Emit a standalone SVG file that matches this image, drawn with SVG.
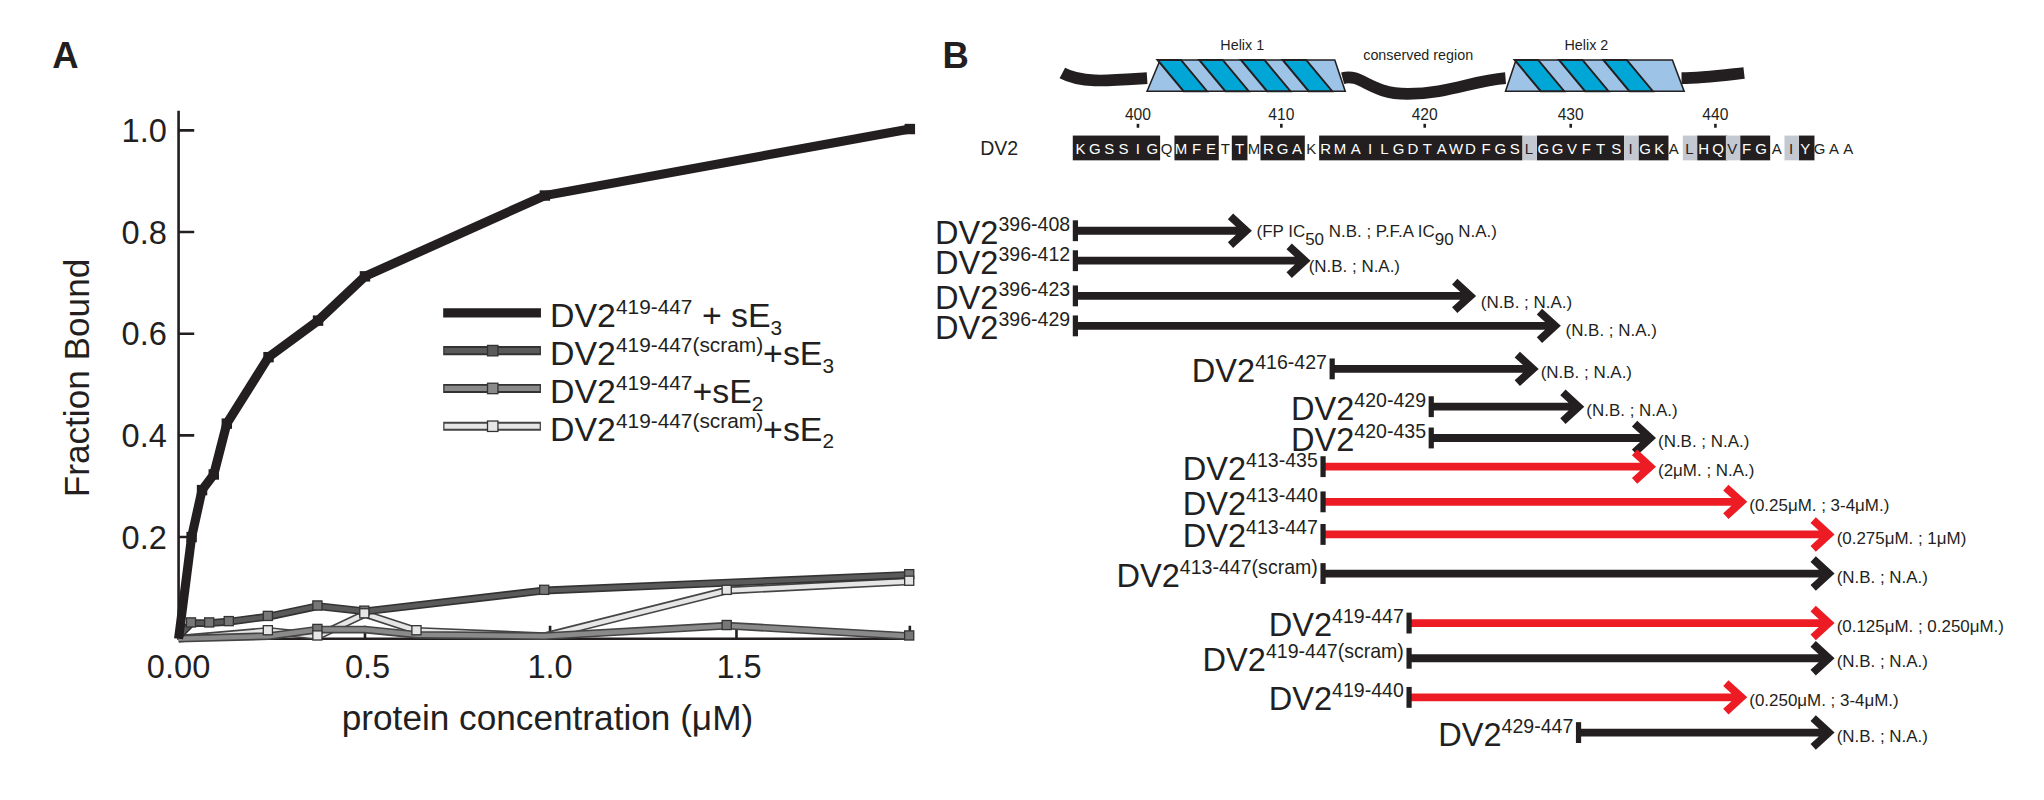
<svg xmlns="http://www.w3.org/2000/svg" width="2044" height="800" viewBox="0 0 2044 800">
<style>
text{font-family:"Liberation Sans",Arial,sans-serif;fill:#231f20}
text.w{fill:#fff}
.tk{font-size:25px}
.ax{stroke:#231f20;stroke-width:2;fill:none}
.lg{font-size:26px}
.cl{font-size:25px}
.an{font-size:13px}
.seq{font-size:11.5px;text-anchor:middle}
.bar{stroke-width:6;fill:none}
.k{stroke:#231f20}
.r{stroke:#ed1c24}
</style>
<rect width="2044" height="800" fill="#fff"/>
<g transform="scale(1.3035)">
<g id="panelA">
<text x="40" y="52" font-size="28" font-weight="bold">A</text>
<path class="ax" d="M137,85 V490 H700"/>
<g class="ax">
<path d="M137,100 h12 M137,178 h12 M137,256 h12 M137,334 h12 M137,412 h12"/>
<path d="M280,490 v-10 M422,490 v-10 M565,490 v-10 M698,490 v-10"/>
</g>
<g class="tk" text-anchor="end">
<text x="128" y="109">1.0</text><text x="128" y="187">0.8</text><text x="128" y="265">0.6</text><text x="128" y="343">0.4</text><text x="128" y="421">0.2</text>
</g>
<g class="tk" text-anchor="middle">
<text x="137" y="520">0.00</text><text x="282" y="520">0.5</text><text x="422" y="520">1.0</text><text x="567" y="520">1.5</text>
</g>
<text x="0" y="0" font-size="27" text-anchor="middle" transform="translate(68,290) rotate(-90)">Fraction Bound</text>
<text x="420" y="560" font-size="27" text-anchor="middle">protein concentration (μM)</text>
<g id="curve-light">
<polyline points="137,490 206,484 244,488 280,471 320,484 418,488 558,453 698,446" fill="none" stroke="#444" stroke-width="6"/>
<polyline points="137,490 206,484 244,488 280,471 320,484 418,488 558,453 698,446" fill="none" stroke="#e6e6e6" stroke-width="3.5"/>
</g>
<g id="curve-mid">
<polyline points="137,490 206,488 244,483 280,483 320,487 418,488 558,480 698,488" fill="none" stroke="#444" stroke-width="6"/>
<polyline points="137,490 206,488 244,483 280,483 320,487 418,488 558,480 698,488" fill="none" stroke="#8a8a8a" stroke-width="3.5"/>
</g>
<g id="curve-dark">
<polyline points="137,488 147,478 160,478 175,477 206,473 244,465 280,469 418,453 698,441" fill="none" stroke="#333" stroke-width="6"/>
<polyline points="137,488 147,478 160,478 175,477 206,473 244,465 280,469 418,453 698,441" fill="none" stroke="#5a5a5a" stroke-width="3.5"/>
</g>
<g fill="#777" stroke="#333" stroke-width="1">
<rect x="143" y="474" width="7" height="7"/><rect x="157" y="474" width="7" height="7"/><rect x="172" y="473" width="7" height="7"/><rect x="202" y="469" width="7" height="7"/><rect x="240" y="461" width="7" height="7"/><rect x="276" y="465" width="7" height="7"/><rect x="414" y="449" width="7" height="7"/><rect x="694" y="437" width="7" height="7"/>
<rect x="240" y="479" width="7" height="7"/><rect x="554" y="476" width="7" height="7"/><rect x="694" y="484" width="7" height="7"/>
</g>
<g fill="#e6e6e6" stroke="#333" stroke-width="1">
<rect x="202" y="480" width="7" height="7"/><rect x="276" y="467" width="7" height="7"/><rect x="316" y="480" width="7" height="7"/><rect x="554" y="449" width="7" height="7"/><rect x="694" y="442" width="7" height="7"/><rect x="240" y="484" width="7" height="7"/>
</g>
<polyline points="137,490 147,412 155,376 164,364 174,325 206,274 244,246 280,212 418,150 698,99" fill="none" stroke="#231f20" stroke-width="7"/>
<g fill="#231f20">
<rect x="143" y="408" width="8" height="8"/><rect x="151" y="372" width="8" height="8"/><rect x="160" y="360" width="8" height="8"/><rect x="170" y="321" width="8" height="8"/><rect x="202" y="270" width="8" height="8"/><rect x="240" y="242" width="8" height="8"/><rect x="276" y="208" width="8" height="8"/><rect x="414" y="146" width="8" height="8"/><rect x="694" y="95" width="8" height="8"/>
</g>
<g id="legend">
<line x1="340" y1="240" x2="415" y2="240" stroke="#231f20" stroke-width="7"/>
<line x1="340" y1="269" x2="415" y2="269" stroke="#333" stroke-width="7"/><line x1="341" y1="269" x2="414" y2="269" stroke="#5a5a5a" stroke-width="4"/><rect x="374" y="265" width="8" height="8" fill="#5a5a5a" stroke="#333"/>
<line x1="340" y1="298" x2="415" y2="298" stroke="#333" stroke-width="7"/><line x1="341" y1="298" x2="414" y2="298" stroke="#8a8a8a" stroke-width="4"/><rect x="374" y="294" width="8" height="8" fill="#8a8a8a" stroke="#333"/>
<line x1="340" y1="327" x2="415" y2="327" stroke="#444" stroke-width="7"/><line x1="341" y1="327" x2="414" y2="327" stroke="#e6e6e6" stroke-width="4"/><rect x="374" y="323" width="8" height="8" fill="#e6e6e6" stroke="#333"/>
<text class="lg" x="422" y="251">DV2<tspan font-size="16" dy="-10">419-447</tspan><tspan dy="10"> + sE</tspan><tspan font-size="16" dy="6">3</tspan></text>
<text class="lg" x="422" y="280">DV2<tspan font-size="16" dy="-10">419-447(scram)</tspan><tspan dy="10">+sE</tspan><tspan font-size="16" dy="6">3</tspan></text>
<text class="lg" x="422" y="309">DV2<tspan font-size="16" dy="-10">419-447</tspan><tspan dy="10">+sE</tspan><tspan font-size="16" dy="6">2</tspan></text>
<text class="lg" x="422" y="338">DV2<tspan font-size="16" dy="-10">419-447(scram)</tspan><tspan dy="10">+sE</tspan><tspan font-size="16" dy="6">2</tspan></text>
</g>
</g>
<g id="panelB">
<text x="723" y="52" font-size="28" font-weight="bold">B</text>
<g id="helix-cartoon">
<path d="M815,56 C830,64 850,62 880,60 M1030,60 C1045,56 1050,72 1080,72 C1110,72 1130,62 1155,60 M1290,60 C1305,60 1320,58 1338,56" fill="none" stroke="#231f20" stroke-width="9"/>
<path d="M880,70 L890,46 L1024,46 L1032,70 Z" fill="#9dc3e6" stroke="#231f20" stroke-width="1.2"/>
<path d="M1155,70 L1163,46 L1283,46 L1292,70 Z" fill="#9dc3e6" stroke="#231f20" stroke-width="1.2"/>
<g fill="#00a6d6" stroke="#231f20" stroke-width="1.5">
<path d="M888,46 h18 l20,24 h-18 Z"/><path d="M920,46 h18 l20,24 h-18 Z"/><path d="M952,46 h18 l20,24 h-18 Z"/><path d="M984,46 h18 l20,24 h-18 Z"/>
<path d="M1162,46 h18 l20,24 h-18 Z"/><path d="M1196,46 h18 l20,24 h-18 Z"/><path d="M1230,46 h18 l20,24 h-18 Z"/>
</g>
<g font-size="11" text-anchor="middle">
<text x="953" y="38">Helix 1</text><text x="1088" y="46">conserved region</text><text x="1217" y="38">Helix 2</text>
</g>
<g font-size="12" text-anchor="middle">
<text x="873" y="92">400</text><text x="983" y="92">410</text><text x="1093" y="92">420</text><text x="1205" y="92">430</text><text x="1316" y="92">440</text>
</g>
<g fill="#231f20"><rect x="872" y="95" width="2" height="3"/><rect x="982" y="95" width="2" height="3"/><rect x="1092" y="95" width="2" height="3"/><rect x="1204" y="95" width="2" height="3"/><rect x="1315" y="95" width="2" height="3"/></g>
</g>
<g id="sequence">
<text x="752" y="119" font-size="15">DV2</text>
<g fill="#231f20">
<rect x="823" y="104" width="67" height="19"/><rect x="901" y="104" width="34" height="19"/><rect x="945" y="104" width="12" height="19"/><rect x="967" y="104" width="34" height="19"/><rect x="1012" y="104" width="156" height="19"/><rect x="1179" y="104" width="67" height="19"/><rect x="1257" y="104" width="23" height="19"/><rect x="1302" y="104" width="23" height="19"/><rect x="1335" y="104" width="23" height="19"/><rect x="1380" y="104" width="12" height="19"/>
</g>
<g fill="#c3c8d1">
<rect x="1168" y="104" width="11" height="19"/><rect x="1246" y="104" width="11" height="19"/><rect x="1291" y="104" width="11" height="19"/><rect x="1324" y="104" width="11" height="19"/><rect x="1369" y="104" width="11" height="19"/>
</g>
<g class="seq">
<text x="829" y="118" class="w">K</text><text x="840" y="118" class="w">G</text><text x="851" y="118" class="w">S</text><text x="862" y="118" class="w">S</text><text x="873" y="118" class="w">I</text><text x="884" y="118" class="w">G</text><text x="895" y="118">Q</text><text x="906" y="118" class="w">M</text><text x="918" y="118" class="w">F</text><text x="929" y="118" class="w">E</text><text x="940" y="118">T</text><text x="951" y="118" class="w">T</text><text x="962" y="118">M</text><text x="973" y="118" class="w">R</text><text x="984" y="118" class="w">G</text><text x="995" y="118" class="w">A</text><text x="1006" y="118">K</text><text x="1017" y="118" class="w">R</text><text x="1028" y="118" class="w">M</text><text x="1040" y="118" class="w">A</text><text x="1051" y="118" class="w">I</text><text x="1062" y="118" class="w">L</text><text x="1073" y="118" class="w">G</text><text x="1084" y="118" class="w">D</text><text x="1095" y="118" class="w">T</text><text x="1106" y="118" class="w">A</text><text x="1117" y="118" class="w">W</text><text x="1128" y="118" class="w">D</text><text x="1140" y="118" class="w">F</text><text x="1151" y="118" class="w">G</text><text x="1162" y="118" class="w">S</text><text x="1173" y="118">L</text><text x="1184" y="118" class="w">G</text><text x="1195" y="118" class="w">G</text><text x="1206" y="118" class="w">V</text><text x="1217" y="118" class="w">F</text><text x="1228" y="118" class="w">T</text><text x="1240" y="118" class="w">S</text><text x="1251" y="118">I</text><text x="1262" y="118" class="w">G</text><text x="1273" y="118" class="w">K</text><text x="1284" y="118">A</text><text x="1296" y="118">L</text><text x="1307" y="118" class="w">H</text><text x="1318" y="118" class="w">Q</text><text x="1329" y="118">V</text><text x="1340" y="118" class="w">F</text><text x="1351" y="118" class="w">G</text><text x="1363" y="118">A</text><text x="1374" y="118">I</text><text x="1385" y="118" class="w">Y</text><text x="1396" y="118">G</text><text x="1407" y="118">A</text><text x="1418" y="118">A</text>
</g>
</g>
<g id="connectors">
<g class="bar k">
<path d="M825,177 H956 M944,166 L956,177 L944,188"/>
<path d="M825,200 H1001 M989,189 L1001,200 L989,211"/>
<path d="M825,227 H1128 M1116,216 L1128,227 L1116,238"/>
<path d="M825,250 H1193 M1181,239 L1193,250 L1181,261"/>
<path d="M1022,283 H1176 M1164,272 L1176,283 L1164,294"/>
<path d="M1098,312 H1211 M1199,301 L1211,312 L1199,323"/>
<path d="M1098,336 H1266 M1254,325 L1266,336 L1254,347"/>
<path d="M1015,440 H1403 M1391,429 L1403,440 L1391,451"/>
<path d="M1081,505 H1403 M1391,494 L1403,505 L1391,516"/>
<path d="M1211,562 H1403 M1391,551 L1403,562 L1391,573"/>
</g>
<g class="bar r">
<path d="M1015,358 H1266 M1254,347 L1266,358 L1254,369"/>
<path d="M1015,385 H1336 M1324,374 L1336,385 L1324,396"/>
<path d="M1015,410 H1403 M1391,399 L1403,410 L1391,421"/>
<path d="M1081,478 H1403 M1391,467 L1403,478 L1391,489"/>
<path d="M1081,535 H1336 M1324,524 L1336,535 L1324,546"/>
</g>
<g fill="#231f20">
<rect x="823" y="169" width="4" height="16"/><rect x="823" y="192" width="4" height="16"/><rect x="823" y="219" width="4" height="16"/><rect x="823" y="242" width="4" height="16"/>
<rect x="1020" y="275" width="4" height="16"/><rect x="1096" y="304" width="4" height="16"/><rect x="1096" y="328" width="4" height="16"/>
<rect x="1013" y="350" width="4" height="16"/><rect x="1013" y="377" width="4" height="16"/><rect x="1013" y="402" width="4" height="16"/><rect x="1013" y="432" width="4" height="16"/>
<rect x="1079" y="470" width="4" height="16"/><rect x="1079" y="497" width="4" height="16"/><rect x="1079" y="527" width="4" height="16"/><rect x="1209" y="554" width="4" height="16"/>
</g>
</g>
<g id="labels" class="cl" text-anchor="end">
<text x="821" y="187">DV2<tspan font-size="15" dy="-10">396-408</tspan></text>
<text x="821" y="210">DV2<tspan font-size="15" dy="-10">396-412</tspan></text>
<text x="821" y="237">DV2<tspan font-size="15" dy="-10">396-423</tspan></text>
<text x="821" y="260">DV2<tspan font-size="15" dy="-10">396-429</tspan></text>
<text x="1018" y="293">DV2<tspan font-size="15" dy="-10">416-427</tspan></text>
<text x="1094" y="322">DV2<tspan font-size="15" dy="-10">420-429</tspan></text>
<text x="1094" y="346">DV2<tspan font-size="15" dy="-10">420-435</tspan></text>
<text x="1011" y="368">DV2<tspan font-size="15" dy="-10">413-435</tspan></text>
<text x="1011" y="395">DV2<tspan font-size="15" dy="-10">413-440</tspan></text>
<text x="1011" y="420">DV2<tspan font-size="15" dy="-10">413-447</tspan></text>
<text x="1011" y="450">DV2<tspan font-size="15" dy="-10">413-447(scram)</tspan></text>
<text x="1077" y="488">DV2<tspan font-size="15" dy="-10">419-447</tspan></text>
<text x="1077" y="515">DV2<tspan font-size="15" dy="-10">419-447(scram)</tspan></text>
<text x="1077" y="545">DV2<tspan font-size="15" dy="-10">419-440</tspan></text>
<text x="1207" y="572">DV2<tspan font-size="15" dy="-10">429-447</tspan></text>
</g>
<g id="annotations" class="an">
<text x="964" y="182">(FP IC<tspan dy="6">50</tspan><tspan dy="-6"> N.B. ; P.F.A IC</tspan><tspan dy="6">90</tspan><tspan dy="-6"> N.A.)</tspan></text>
<text x="1004" y="209">(N.B. ; N.A.)</text>
<text x="1136" y="236">(N.B. ; N.A.)</text>
<text x="1201" y="258">(N.B. ; N.A.)</text>
<text x="1182" y="290">(N.B. ; N.A.)</text>
<text x="1217" y="319">(N.B. ; N.A.)</text>
<text x="1272" y="343">(N.B. ; N.A.)</text>
<text x="1272" y="365">(2μM. ; N.A.)</text>
<text x="1342" y="392">(0.25μM. ; 3-4μM.)</text>
<text x="1409" y="417">(0.275μM. ; 1μM)</text>
<text x="1409" y="447">(N.B. ; N.A.)</text>
<text x="1409" y="485">(0.125μM. ; 0.250μM.)</text>
<text x="1409" y="512">(N.B. ; N.A.)</text>
<text x="1342" y="542">(0.250μM. ; 3-4μM.)</text>
<text x="1409" y="569">(N.B. ; N.A.)</text>
</g>
</g>
</g>
</svg>
